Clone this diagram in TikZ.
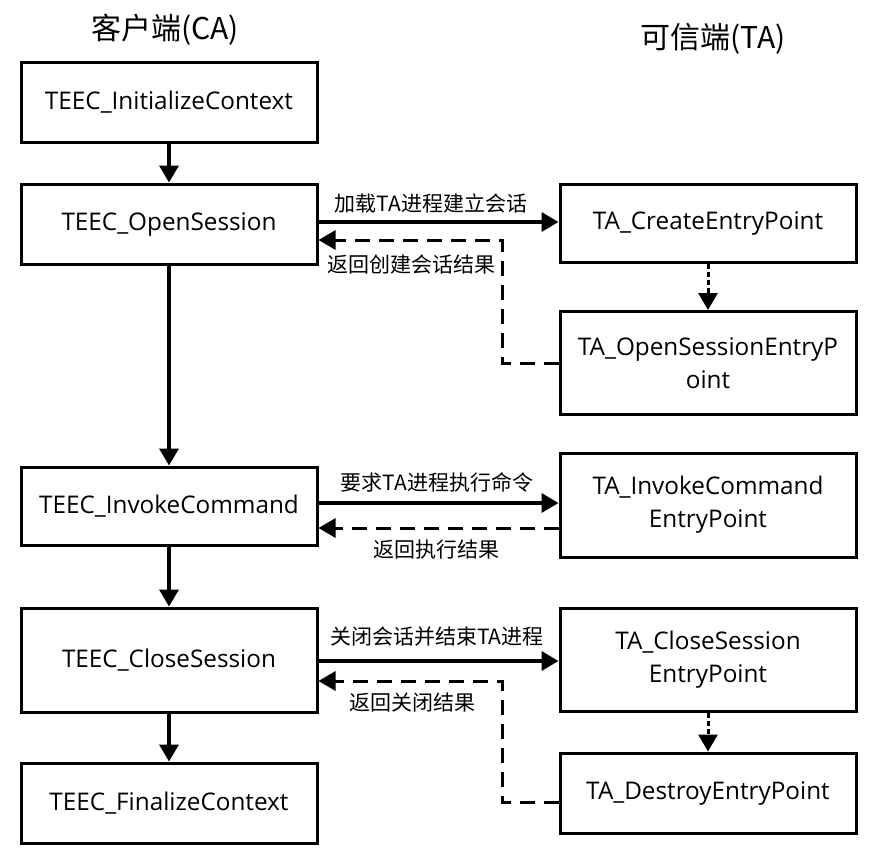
\documentclass[tikz,border=0pt]{standalone}
\usepackage{fontspec}
\setmainfont{Open Sans}
\newfontfamily\cjk{Noto Sans CJK SC}
\usetikzlibrary{arrows.meta,calc}
\begin{document}
\begin{tikzpicture}[x=1pt,y=-1pt,
  box/.style={draw=black,line width=3pt,minimum width=296pt,inner sep=0pt,align=center,
    font=\fontsize{24.3}{33}\selectfont},
  lbl/.style={font=\cjk\fontsize{21}{25}\selectfont,inner sep=0pt},
  ttl/.style={font=\cjk\fontsize{30}{36}\selectfont,inner sep=0pt},
  arr/.style={line width=3.5pt,-{Triangle[length=17pt,width=19pt]}},
  darr/.style={line width=3pt,dash pattern=on 15pt off 9pt,-{Triangle[length=17pt,width=19pt]}},
  dotarr/.style={line width=3pt,dash pattern=on 5pt off 3pt,-{Triangle[length=17pt,width=19pt]}}]
\useasboundingbox (0,0) rectangle (874,859);
% titles
\node[ttl] (tca) at (165,30) {客户端(CA)};
\node[ttl] (tta) at (713,39) {可信端(TA)};
% client boxes
\node[box,minimum height=80pt] (b1) at (169,102) {TEEC\_InitializeContext};
\node[box,minimum height=80pt] (b2) at (169,224) {TEEC\_OpenSession};
\node[box,minimum height=78pt] (b3) at (169,506) {TEEC\_InvokeCommand};
\node[box,minimum height=104pt] (b4) at (169,660) {TEEC\_CloseSession};
\node[box,minimum height=80pt] (b5) at (169,803) {TEEC\_FinalizeContext};
% TA boxes
\node[box,minimum height=78pt] (r1) at (708,223) {TA\_CreateEntryPoint};
\node[box,minimum height=103pt] (r2) at (708,363) {TA\_OpenSessionEntryP\\oint};
\node[box,minimum height=104pt] (r3) at (708,505) {TA\_InvokeCommand\\EntryPoint};
\node[box,minimum height=103pt] (r4) at (708,660) {TA\_CloseSession\\EntryPoint};
\node[box,minimum height=80pt] (r5) at (708,793) {TA\_DestroyEntryPoint};
% left flow
\draw[arr] (b1.south) -- (b2.north);
\draw[arr] (b2.south) -- (b3.north);
\draw[arr] (b3.south) -- (b4.north);
\draw[arr] (b4.south) -- (b5.north);
% right dotted
\draw[dotarr] (r1.south) -- (r2.north);
\draw[dotarr] (r4.south) -- (r5.north);
% open session
\draw[arr] (b2.east |- 0,222) -- (r1.west |- 0,222);
\coordinate (c1) at (502,240);
\draw[darr] (r2.west) -| (c1) -- (b2.east |- c1);
\node[lbl] (l1) at (431,203) {加载TA进程建立会话};
\node[lbl] (l2) at (411,265) {返回创建会话结果};
% invoke
\draw[arr] (b3.east |- 0,503) -- (r3.west |- 0,503);
\draw[darr] (r3.west |- 0,528) -- (b3.east |- 0,528);
\node[lbl] (l3) at (437,482) {要求TA进程执行命令};
\node[lbl] (l4) at (436,550) {返回执行结果};
% close
\draw[arr] (b4.east |- 0,661) -- (r4.west |- 0,661);
\coordinate (c2) at (502,681);
\draw[darr] (r5.west |- 0,802) -| (c2) -- (b4.east |- c2);
\node[lbl] (l5) at (437,637) {关闭会话并结束TA进程};
\node[lbl] (l6) at (412,702) {返回关闭结果};
\end{tikzpicture}
\end{document}
